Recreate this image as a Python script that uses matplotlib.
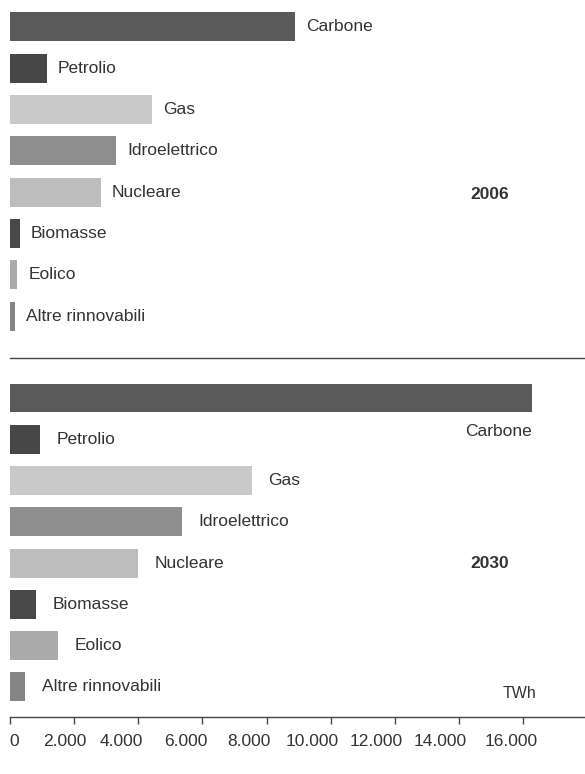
import matplotlib
matplotlib.use("Agg")
import matplotlib.pyplot as plt
from matplotlib.transforms import ScaledTranslation

plt.rcParams['font.family'] = ['Liberation Sans', 'DejaVu Sans']

categories = ["Carbone", "Petrolio", "Gas", "Idroelettrico", "Nucleare",
              "Biomasse", "Eolico", "Altre rinnovabili"]
values_2006 = [8890, 1150, 4430, 3300, 2830, 310, 220, 160]
values_2030 = [16280, 935, 7540, 5360, 3990, 810, 1490, 470]
xticks = [0, 2000, 4000, 6000, 8000, 10000, 12000, 14000, 16000]
xticklabels = ["0", "2.000", "4.000", "6.000", "8.000", "10.000", "12.000", "14.000", "16.000"]
colors = ["#5a5a5a", "#474747", "#c9c9c9", "#8e8e8e", "#bdbdbd", "#484848", "#ababab", "#858585"]

W, H = 585, 774
fig = plt.figure(figsize=(W / 100, H / 100), dpi=100)
XMAX = (W - 10) / 32.07 * 1000
TXT = "#333333"
FS = 12.5

# top panel: pixel rows 0..345
ax1 = fig.add_axes([10 / W, (H - 345) / H, (W - 10) / W, 345 / H])
# bottom panel: pixel rows 358..717
ax2 = fig.add_axes([10 / W, (H - 717) / H, (W - 10) / W, (717 - 358) / H])

ypos = list(range(len(categories)))
for ax, vals in ((ax1, values_2006), (ax2, values_2030)):
    ax.barh(ypos, vals, height=0.70, color=colors, edgecolor="none")
    ax.set_xlim(0, XMAX)
    ax.set_facecolor("none")

ax1.set_ylim(7.70, -0.65)
ax2.set_ylim(7.73, -0.97)

for ax in (ax1, ax2):
    for s in ax.spines.values():
        s.set_visible(False)
    ax.set_yticks([])

ax1.set_xticks([])

# labels top
for i, (c, v) in enumerate(zip(categories, values_2006)):
    ax1.annotate(c, (v, i), xytext=(8, 0), textcoords="offset points",
                 ha="left", va="center", fontsize=FS, color=TXT)
# labels bottom
for i, (c, v) in enumerate(zip(categories, values_2030)):
    if i == 0:
        ax2.text(v, 0.82, c, ha="right", va="center", fontsize=FS, color=TXT)
    else:
        ax2.annotate(c, (v, i), xytext=(12, 0), textcoords="offset points",
                     ha="left", va="center", fontsize=FS, color=TXT)

ax1.text(14350, 4.05, "2006", ha="left", va="center", fontsize=FS, fontweight="bold", color=TXT)
ax2.text(14350, 4.0, "2030", ha="left", va="center", fontsize=FS, fontweight="bold", color=TXT)
ax2.text(15350, 7.15, "TWh", ha="left", va="center", fontsize=FS - 1, color=TXT)

ax2.spines["top"].set_visible(True)
ax2.spines["top"].set_color("#444444")
ax2.spines["top"].set_linewidth(1.0)
ax2.spines["bottom"].set_visible(True)
ax2.spines["bottom"].set_color("#444444")
ax2.spines["bottom"].set_linewidth(1.0)
ax2.set_xticks(xticks)
ax2.set_xticklabels(xticklabels, fontsize=12.5, color=TXT)
ax2.tick_params(axis="x", direction="out", length=5, width=1, color="#444444", pad=7)

# printed labels sit slightly left of their tick marks in the original
shifts = [4, -9, -17, -17, -18, -19, -19, -19, -12]
for lbl, dx in zip(ax2.get_xticklabels(), shifts):
    lbl.set_transform(lbl.get_transform() + ScaledTranslation(dx / 100, 0, fig.dpi_scale_trans))

fig.savefig("out.png", dpi=100)
